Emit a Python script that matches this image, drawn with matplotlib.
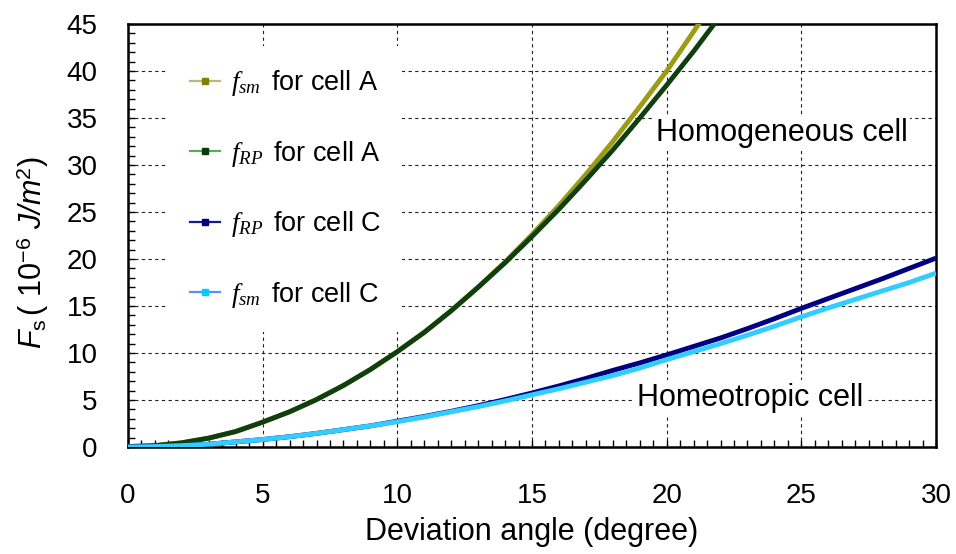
import matplotlib
matplotlib.use("Agg")
import matplotlib.pyplot as plt
from matplotlib.lines import Line2D
from matplotlib.ticker import MultipleLocator

plt.rcParams['font.family'] = ['Liberation Sans', 'DejaVu Sans']
plt.rcParams['mathtext.fontset'] = 'custom'
plt.rcParams['mathtext.rm'] = 'Liberation Sans'
plt.rcParams['mathtext.it'] = 'Liberation Serif:italic'
plt.rcParams['mathtext.sf'] = 'Liberation Sans:italic'

# Surface energy vs. deviation angle (degrees), in 10^-6 J/m^2
angle_a = [0, 1, 2, 3, 4, 5, 6, 7, 8, 9, 10, 11, 12, 13, 14, 15, 16, 17, 18, 19, 20, 21, 22]
fsm_cell_a = [0.05, 0.15, 0.45, 0.95, 1.65, 2.65, 3.75, 5.05, 6.55, 8.25, 10.15, 12.2,
              14.5, 17.0, 19.7, 22.6, 25.7, 29.0, 32.5, 36.2, 40.0, 44.2, 48.5]
frp_cell_a = [0.05, 0.15, 0.45, 0.95, 1.65, 2.65, 3.75, 5.05, 6.55, 8.25, 10.15, 12.2,
              14.5, 17.0, 19.6, 22.4, 25.3, 28.4, 31.6, 35.0, 38.5, 42.1, 45.9]

angle_c = list(range(0, 31))
frp_cell_c = [0.0, 0.05, 0.15, 0.3, 0.55, 0.8, 1.1, 1.45, 1.85, 2.25, 2.75, 3.25, 3.8,
              4.4, 5.05, 5.75, 6.5, 7.3, 8.15, 8.95, 9.8, 10.7, 11.6, 12.6, 13.65,
              14.75, 15.8, 16.85, 17.9, 19.0, 20.1]
fsm_cell_c = [0.0, 0.05, 0.15, 0.3, 0.55, 0.8, 1.1, 1.45, 1.85, 2.25, 2.7, 3.2, 3.75,
              4.3, 4.9, 5.55, 6.2, 6.9, 7.6, 8.4, 9.3, 10.15, 11.0, 11.9, 12.85,
              13.85, 14.8, 15.7, 16.6, 17.5, 18.5]

x_ticks = [0, 5, 10, 15, 20, 25, 30]
y_ticks = [0, 5, 10, 15, 20, 25, 30, 35, 40, 45]

series = [
    (angle_a, fsm_cell_a, '#9c9c14', '#b8b880', '#808000', r'$f_{sm}\,$ for cell A'),
    (angle_a, frp_cell_a, '#0f3f0f', '#55b055', '#0a3a0a', r'$f_{RP}\,$ for cell A'),
    (angle_c, frp_cell_c, '#000080', '#1a1a8c', '#000080', r'$f_{RP}\,$ for cell C'),
    (angle_c, fsm_cell_c, '#33ccff', '#5b8cff', '#00ccff', r'$f_{sm}\,$ for cell C'),
]

fig = plt.figure(figsize=(9.56, 5.54), dpi=100)
ax = fig.add_axes([0.1339, 0.1931, 0.8452, 0.7635])

handles = []
for xs, ys, col, leg_line, leg_mark, lab in series:
    ax.plot(xs, ys, color=col, lw=3.5, solid_capstyle='butt', zorder=3)
    handles.append(Line2D([], [], color=leg_line, lw=1.6, marker='s', markersize=4.5,
                          markerfacecolor=leg_mark, markeredgecolor=leg_mark, label=lab))

ax.set_xlim(0, 30)
ax.set_ylim(0, 45)
ax.set_xticks(x_ticks)
ax.set_yticks(y_ticks)
ax.xaxis.set_minor_locator(MultipleLocator(0.5))
ax.yaxis.set_minor_locator(MultipleLocator(1))
ax.tick_params(which='both', direction='in', top=False, right=False,
               width=1.0, color='black')
ax.tick_params(which='major', length=5, labelsize=20)
ax.tick_params(axis='x', which='major', pad=26)
ax.tick_params(axis='y', which='major', pad=22)
ax.tick_params(which='minor', length=5)

ax.grid(True, which='major', color='#222222', lw=0.8, linestyle=(0, (3, 3)))
ax.set_axisbelow(True)
for sp in ax.spines.values():
    sp.set_linewidth(1.8)
    sp.set_color('black')

ax.set_xlabel('Deviation angle (degree)', fontsize=22, labelpad=6)
ax.set_ylabel(r'$\mathsf{F}_{\mathrm{s}}\,$( 10$^{-6}$ $\mathsf{J/m}^{2}$)', fontsize=22)
ax.yaxis.set_label_coords(-0.095, 0.46)

leg = ax.legend(handles=handles, loc='center left', bbox_to_anchor=(0.05, 0.61),
                fontsize=19.5, frameon=True, facecolor='white', edgecolor='none',
                framealpha=1.0, fancybox=False, borderpad=0.8, borderaxespad=0,
                handlelength=1.1, handletextpad=0.4, labelspacing=1.5, numpoints=1)
leg.set_zorder(4)

ax.text(19.6, 33.4, 'Homogeneous cell', fontsize=22, ha='left', va='center',
        bbox=dict(facecolor='white', edgecolor='none', pad=2), zorder=2)
ax.text(18.9, 5.2, 'Homeotropic cell', fontsize=22, ha='left', va='center',
        bbox=dict(facecolor='white', edgecolor='none', pad=2), zorder=2)

fig.savefig('out.png', dpi=100)
